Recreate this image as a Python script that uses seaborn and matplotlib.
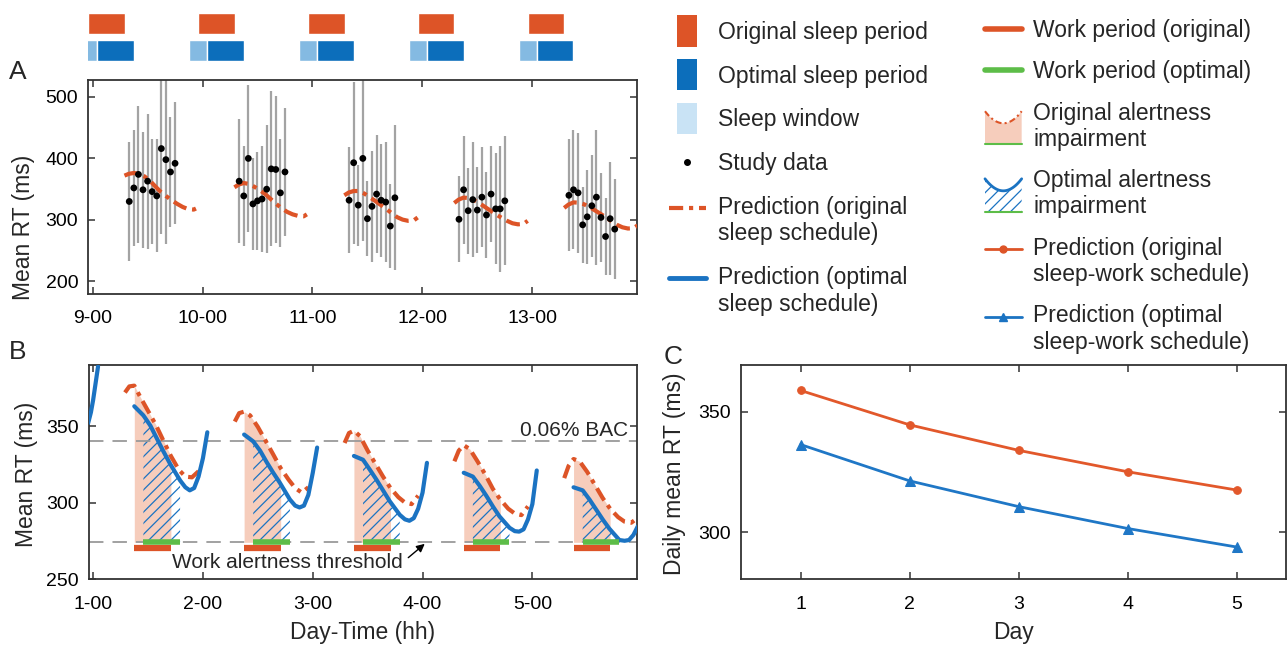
import matplotlib
matplotlib.use("Agg")
import matplotlib.pyplot as plt
import numpy as np
import pandas as pd
import seaborn as sns
from matplotlib.legend_handler import HandlerBase, HandlerLine2D
from matplotlib.lines import Line2D
from matplotlib.patches import Patch, Rectangle, Polygon

# ---------------- data ----------------
# panel A: study days, hourly study data (mean, sd) and predicted RT
a_days = [9, 10, 11, 12, 13]
study_hours = [8, 9, 10, 11, 12, 13, 14, 15, 16, 17, 18]
study_mean = [
    [330, 352, 374, 349, 363, 346, 339, 416, 398, 378, 392],
    [363, 339, 400, 326, 331, 334, 350, 383, 382, 344, 378],
    [332, 393, 324, 400, 302, 322, 342, 332, 329, 290, 336],
    [301, 349, 315, 333, 316, 337, 308, 342, 318, 318, 331],
    [340, 349, 344, 292, 305, 323, 337, 304, 273, 302, 285],
]
study_sd = [
    [97, 94, 111, 94, 110, 85, 92, 139, 137, 90, 99],
    [101, 81, 119, 75, 80, 86, 104, 126, 119, 88, 104],
    [86, 132, 66, 135, 61, 90, 96, 92, 97, 68, 118],
    [70, 88, 70, 94, 70, 81, 70, 78, 90, 102, 105],
    [91, 97, 98, 62, 76, 83, 110, 72, 63, 92, 81],
]
a_pred_frac = [0.29, 0.33, 0.375, 0.42, 0.47, 0.52, 0.57, 0.62, 0.67, 0.72, 0.77, 0.82, 0.87, 0.92, 0.958]
a_pred_rt = [
    [372, 375, 376.3, 375, 371, 364, 354.5, 345.5, 338.5, 332, 326, 321, 317.5, 316.8, 320],
    [353, 357.5, 360, 358.5, 354, 348.5, 342, 334, 326, 319, 313, 309, 306.5, 305.8, 310],
    [340, 344.5, 347, 347, 343, 337, 331, 324.5, 318, 311, 304.5, 300.5, 298.5, 299, 304],
    [327.5, 333, 336.3, 335.5, 332, 327, 321, 315, 309, 303.5, 298.5, 294.5, 292.8, 293.5, 298.5],
    [319.5, 325, 328.5, 328, 325.5, 321, 315.5, 310, 304, 298, 292, 288, 286, 286.5, 291],
]

# sleep / work schedules (hours relative to midnight of each day)
orig_sleep_hours = [-1, 7]
window_hours = [-3, 1]
opt_sleep_hours = [1, 9]
orig_work_hours = [9, 17]
opt_work_hours = [11, 19]

# panel B: predictions for the original and optimal schedules
b_days = [1, 2, 3, 4, 5]
b_orig_frac = [0.29, 0.33, 0.375, 0.43, 0.50, 0.57, 0.64, 0.708, 0.78, 0.84, 0.90, 0.96]
b_orig_rt = [
    [372, 376, 376.5, 369, 360, 351, 340.5, 330.5, 321.5, 317, 316.5, 320.5],
    [353, 358.5, 359.5, 357, 349.5, 340.5, 331.5, 322.5, 315, 309.5, 306.5, 310],
    [339, 345.5, 347, 343.5, 334, 325.5, 317, 309.5, 303.5, 300, 299, 304.5],
    [327, 334, 337.5, 335, 327, 318.5, 309, 302, 296, 292.8, 291.8, 297.5],
    [316, 324, 328.5, 327, 320, 311.5, 303, 296, 290.5, 287.5, 286.8, 290],
]
b_opt_frac = [0.375, 0.458, 0.52, 0.58, 0.64, 0.70, 0.792, 0.84, 0.88, 0.92, 0.96, 1.00, 1.04]
b_opt_rt = [
    [363, 357, 350.5, 342, 333.5, 325.5, 314.5, 310, 308, 309.5, 317, 329, 346],
    [344.5, 340, 334, 326.5, 319.5, 313, 302, 298, 296.8, 298, 305, 319.4, 336],
    [330.5, 328, 321.5, 315, 308, 301, 292, 289, 288.1, 289.8, 296, 306.5, 326],
    [319.5, 317, 311, 304.5, 297.5, 291, 283.5, 281.3, 281, 282.5, 289, 299, 321],
    [310, 308, 302, 295.5, 289, 283, 275.5, 275, 275.5, 278.8, 284.5],
]
b_tail_t = [0.955, 0.98, 1.0, 1.045]
b_tail_rt = [352, 359, 367, 389]
alert_threshold = 274
bac_level = 340

# panel C: daily mean RT
c_day = [1, 2, 3, 4, 5]
c_orig = [358.9, 344.6, 334.0, 325.1, 317.5]
c_opt = [336.4, 321.3, 310.6, 301.5, 293.8]

# ---------------- style ----------------
ORANGE = "#DD5427"
BLUE = "#1B73C2"
DBLUE = "#0C6EBB"
LBLUE = "#84BAE2"
PALE = "#C9E3F5"
SALMON = "#F6CDBC"
GREEN = "#5DBD48"
GREY = "#A3A3A3"
DASHDOT = (0, (3.4, 1.4, 1.0, 1.4))
LABEL_FS = 16.5

sns.set_theme(style="ticks")
plt.rcParams["font.family"] = ["Liberation Sans", "DejaVu Sans"]
plt.rcParams["hatch.linewidth"] = 0.9
plt.rcParams["axes.edgecolor"] = "#333333"
plt.rcParams["axes.linewidth"] = 1.3

fig = plt.figure(figsize=(12.88, 6.5), dpi=100)
W, H = 1288, 650
axS = fig.add_axes([88 / W, 1 - 64 / H, 548.7 / W, 54 / H])
axA = fig.add_axes([88 / W, 1 - 293.7 / H, 548.7 / W, 214 / H])
axB = fig.add_axes([88.5 / W, 1 - 579 / H, 548.2 / W, 214 / H])
axC = fig.add_axes([740.7 / W, 1 - 579 / H, 545 / W, 214 / H])


def style_axes(ax):
    ax.tick_params(direction="in", top=True, right=True, length=5, width=1.1,
                   labelsize=14, colors="#333333", labelcolor="black")
    ax.tick_params(axis="x", pad=12)
    ax.tick_params(axis="y", pad=7)


# ---------------- sleep bars ----------------
n = len(a_days)
axS.barh([1] * n, [(orig_sleep_hours[1] - orig_sleep_hours[0]) / 24] * n,
         left=[d + orig_sleep_hours[0] / 24 for d in a_days], height=0.78, color=ORANGE)
axS.barh([0] * n, [(window_hours[1] - window_hours[0]) / 24] * n,
         left=[d + window_hours[0] / 24 for d in a_days], height=0.78, color=LBLUE)
axS.barh([0] * n, [(opt_sleep_hours[1] - opt_sleep_hours[0]) / 24] * n,
         left=[d + opt_sleep_hours[0] / 24 for d in a_days], height=0.78, color=DBLUE)
axS.set_xlim(8.958, 13.95)
axS.set_ylim(-0.5, 1.5)
axS.axis("off")

# ---------------- panel A ----------------
rows = []
for d, means, sds in zip(a_days, study_mean, study_sd):
    for h, m, s in zip(study_hours, means, sds):
        rows.append({"t": d + h / 24, "rt": m, "sd": s})
df_study = pd.DataFrame(rows)
df_a = pd.DataFrame([{"t": d + f, "rt": v, "day": d}
                     for d, vals in zip(a_days, a_pred_rt) for f, v in zip(a_pred_frac, vals)])

axA.errorbar(df_study["t"], df_study["rt"], yerr=df_study["sd"], fmt="none",
             ecolor=GREY, elinewidth=1.6, capsize=0, zorder=1)
sns.lineplot(data=df_a, x="t", y="rt", units="day", estimator=None, color=ORANGE,
             lw=3, linestyle=DASHDOT, ax=axA, legend=False, zorder=3)
sns.scatterplot(data=df_study, x="t", y="rt", color="black", s=24, edgecolor="none",
                ax=axA, legend=False, zorder=4)
axA.set_xlim(8.958, 13.95)
axA.set_ylim(180, 528)
axA.set_xticks(a_days)
axA.set_xticklabels([f"{d}-00" for d in a_days])
axA.set_yticks([200, 300, 400, 500])
axA.set_xlabel("")
axA.set_ylabel("Mean RT (ms)", fontsize=LABEL_FS)
axA.yaxis.set_label_coords(-0.096, 0.31)
style_axes(axA)

# ---------------- panel B ----------------
df_bo = pd.DataFrame([{"t": d + f, "rt": v, "day": d}
                      for d, vals in zip(b_days, b_orig_rt) for f, v in zip(b_orig_frac, vals)])
df_bp = pd.DataFrame([{"t": d + f, "rt": v, "day": d}
                      for d, vals in zip(b_days, b_opt_rt) for f, v in zip(b_opt_frac, vals)])
df_tail = pd.DataFrame({"t": b_tail_t, "rt": b_tail_rt, "day": 0})
df_bp = pd.concat([df_tail, df_bp], ignore_index=True)

for d in b_days:
    so = df_bo[(df_bo["day"] == d) & (df_bo["t"] >= d + orig_work_hours[0] / 24 - 1e-3)
               & (df_bo["t"] <= d + orig_work_hours[1] / 24 + 1e-3)]
    axB.fill_between(so["t"], alert_threshold, so["rt"], color=SALMON, lw=0, zorder=1)
for d in b_days:
    sp = df_bp[(df_bp["day"] == d) & (df_bp["t"] >= d + opt_work_hours[0] / 24 - 1e-3)
               & (df_bp["t"] <= d + opt_work_hours[1] / 24 + 1e-3)]
    axB.fill_between(sp["t"], alert_threshold, sp["rt"], facecolor="none", edgecolor=BLUE,
                     hatch="///", lw=0, zorder=2)

axB.axhline(bac_level, color="#9A9A9A", lw=1.3, dashes=(8, 5), zorder=2.5)
axB.axhline(alert_threshold, color="#9A9A9A", lw=1.3, dashes=(8, 5), zorder=2.5)

sns.lineplot(data=df_bo, x="t", y="rt", units="day", estimator=None, color=ORANGE,
             lw=3, linestyle=DASHDOT, ax=axB, legend=False, zorder=4)
sns.lineplot(data=df_bp, x="t", y="rt", units="day", estimator=None, color=BLUE,
             lw=3, ax=axB, legend=False, zorder=5)

axB.hlines([alert_threshold - 3.7] * len(b_days), [d + orig_work_hours[0] / 24 for d in b_days],
           [d + orig_work_hours[1] / 24 for d in b_days], color=ORANGE, lw=4.5, zorder=6)
axB.hlines([alert_threshold] * len(b_days), [d + opt_work_hours[0] / 24 for d in b_days],
           [d + opt_work_hours[1] / 24 for d in b_days], color=GREEN, lw=4, zorder=6)

axB.text(5.87, 347, "0.06% BAC", ha="right", va="center", fontsize=15)
axB.annotate("Work alertness threshold", xy=(4.02, alert_threshold - 1), xytext=(2.77, 261),
             ha="center", va="center", fontsize=15,
             arrowprops=dict(arrowstyle="-|>", color="black", lw=1, shrinkA=2, shrinkB=0,
                             mutation_scale=12, relpos=(1.0, 0.5)))
axB.set_xlim(0.958, 5.95)
axB.set_ylim(250, 390)
axB.set_xticks(b_days)
axB.set_xticklabels([f"{d}-00" for d in b_days])
axB.set_yticks([250, 300, 350])
axB.set_xlabel("Day-Time (hh)", fontsize=LABEL_FS, labelpad=6)
axB.set_ylabel("Mean RT (ms)", fontsize=LABEL_FS)
axB.yaxis.set_label_coords(-0.092, 0.49)
style_axes(axB)

# ---------------- panel C ----------------
sns.lineplot(x=c_day, y=c_orig, color="#E2582B", lw=2, marker="o", markersize=5.5,
             markeredgecolor="#E2582B", ax=axC)
sns.lineplot(x=c_day, y=c_opt, color="#1F77C6", lw=2, marker="^", markersize=7.5,
             markeredgecolor="#1F77C6", ax=axC)
axC.set_xlim(0.45, 5.45)
axC.set_ylim(280.5, 369.5)
axC.set_xticks(c_day)
axC.set_yticks([300, 350])
axC.set_xlabel("Day", fontsize=LABEL_FS, labelpad=6)
axC.set_ylabel("Daily mean RT (ms)", fontsize=LABEL_FS)
axC.yaxis.set_label_coords(-0.10, 0.49)
style_axes(axC)

# panel letters
fig.text(18 / W, 1 - 72 / H, "A", fontsize=19, ha="center", va="center")
fig.text(18 / W, 1 - 352 / H, "B", fontsize=19, ha="center", va="center")
fig.text(673 / W, 1 - 357 / H, "C", fontsize=19, ha="center", va="center")


# ---------------- legend ----------------
class TallPatch(HandlerBase):
    def __init__(self, color):
        super().__init__()
        self.color = color

    def create_artists(self, legend, orig, xd, yd, w, h, fs, trans):
        rw, rh = 0.55 * w, 1.95 * h
        r = Rectangle((-xd + (w - rw) / 2, -yd + (h - rh) / 2), rw, rh,
                      facecolor=self.color, edgecolor="none", transform=trans)
        return [r]


class RaisedLine(HandlerLine2D):
    def __init__(self, dy, **kw):
        super().__init__(**kw)
        self.dy = dy

    def create_artists(self, *args):
        arts = super().create_artists(*args)
        for a in arts:
            a.set_ydata(np.asarray(a.get_ydata(), float) + self.dy)
        return arts


class Impairment(HandlerBase):
    def __init__(self, optimal):
        super().__init__()
        self.optimal = optimal

    def create_artists(self, legend, orig, xd, yd, w, h, fs, trans):
        x0, x1 = -xd, -xd + w
        top = -yd + h / 2 + 1.0 * h
        bot = -yd + h / 2 - 1.05 * h
        xs = np.linspace(x0, x1, 40)
        u = (xs - (x0 + x1) / 2) / (w / 2)
        ys = top - 0.75 * h * (1 - u ** 2)
        verts = list(zip(xs, ys)) + [(x1, bot), (x0, bot)]
        if self.optimal:
            poly = Polygon(verts, closed=True, facecolor="none", edgecolor=BLUE, hatch="///",
                           lw=0, transform=trans)
            cur = Line2D(xs, ys, color=BLUE, lw=2, transform=trans)
        else:
            poly = Polygon(verts, closed=True, facecolor=SALMON, edgecolor="none", transform=trans)
            cur = Line2D(xs, ys, color=ORANGE, lw=1.5, linestyle=(0, (3, 1.5, 1, 1.5)),
                         transform=trans)
        base = Line2D([x0, x1], [bot, bot], color=GREEN, lw=1.5, transform=trans)
        return [poly, cur, base]


LEG_FS = 16.5
h_orig_sleep = Patch(color=ORANGE)
h_opt_sleep = Patch(color=DBLUE)
h_window = Patch(color=PALE)
h_study = Line2D([], [], marker="o", ms=4, color="black", ls="none")
h_pred_o = Line2D([], [], color=ORANGE, lw=3, linestyle=DASHDOT)
h_pred_p = Line2D([], [], color=BLUE, lw=3.5)
leg1 = fig.legend(
    handles=[h_orig_sleep, h_opt_sleep, h_window, h_study, h_pred_o, h_pred_p],
    labels=["Original sleep period", "Optimal sleep period", "Sleep window", "Study data",
            "Prediction (original\nsleep schedule)", "Prediction (optimal\nsleep schedule)"],
    loc="upper left", bbox_to_anchor=(669 / W, 1 - 21 / H), frameon=False, fontsize=LEG_FS,
    handlelength=1.6, handletextpad=0.52, labelspacing=0.9, borderpad=0, borderaxespad=0,
    handler_map={h_orig_sleep: TallPatch(ORANGE), h_opt_sleep: TallPatch(DBLUE),
                 h_window: TallPatch(PALE), h_pred_o: RaisedLine(10), h_pred_p: RaisedLine(10)})

h_work_o = Line2D([], [], color=ORANGE, lw=4)
h_work_p = Line2D([], [], color=GREEN, lw=4)
h_imp_o = Patch(color=SALMON)
h_imp_p = Patch(color=BLUE)
h_c_o = Line2D([], [], color=ORANGE, lw=2, marker="o", ms=5)
h_c_p = Line2D([], [], color=BLUE, lw=2, marker="^", ms=6)
leg2 = fig.legend(
    handles=[h_work_o, h_work_p, h_imp_o, h_imp_p, h_c_o, h_c_p],
    labels=["Work period (original)", "Work period (optimal)", "Original alertness\nimpairment",
            "Optimal alertness\nimpairment", "Prediction (original\nsleep-work schedule)",
            "Prediction (optimal\nsleep-work schedule)"],
    loc="upper left", bbox_to_anchor=(985 / W, 1 - 19 / H), frameon=False, fontsize=LEG_FS,
    handlelength=1.6, handletextpad=0.5, labelspacing=0.8, borderpad=0, borderaxespad=0,
    handler_map={h_imp_o: Impairment(False), h_imp_p: Impairment(True),
                 h_c_o: RaisedLine(9.5), h_c_p: RaisedLine(9.5)})
for leg, ls in ((leg1, 1.22), (leg2, 1.18)):
    for t in leg.get_texts():
        t.set_linespacing(ls)

fig.savefig("out.png", dpi=100)
